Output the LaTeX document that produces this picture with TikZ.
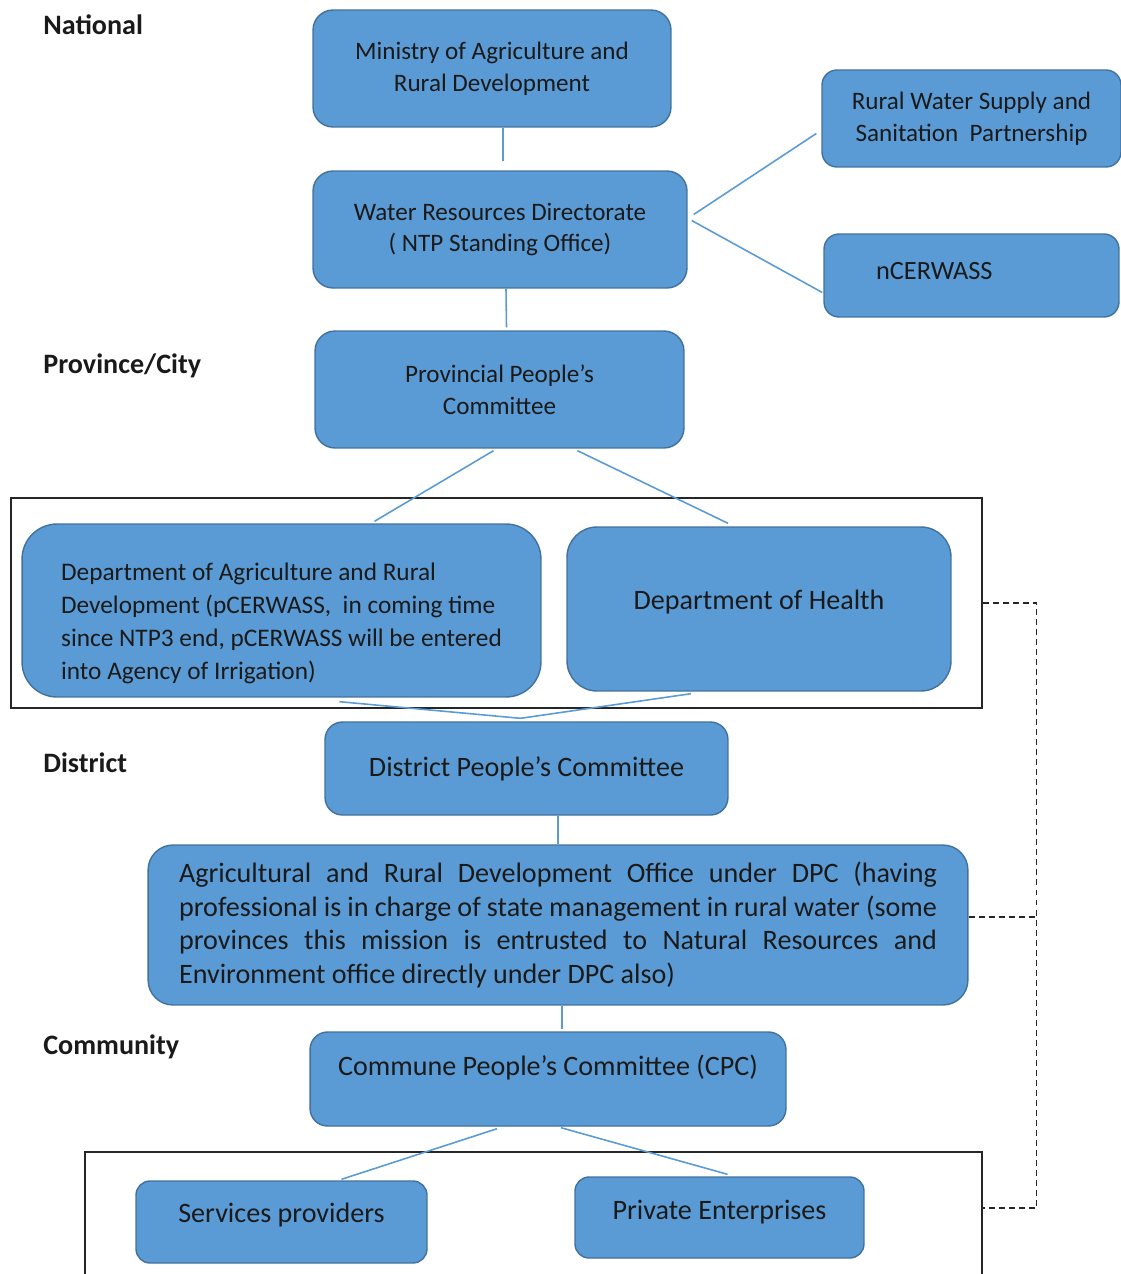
\documentclass[tikz,border=0pt]{standalone}
\usepackage{fontspec}
\setmainfont{Carlito}
\usetikzlibrary{calc}

\definecolor{kastenblau}{HTML}{5B9BD5}
\definecolor{randblau}{HTML}{41719C}
\definecolor{schrift}{HTML}{1A1A1A}

\begin{document}
\begin{tikzpicture}[x=0.02cm, y=-0.02cm,
	kasten/.style={draw=randblau, line width=0.8pt, fill=kastenblau, rounded corners=0.4cm,
		text=schrift, inner sep=0pt, align=center, font=\fontsize{14.3}{18.1}\selectfont},
	gross/.style={font=\fontsize{16}{19}\selectfont},
	ebene/.style={anchor=west, inner sep=0pt, text=schrift, font=\fontsize{16}{19}\selectfont\bfseries},
	verbindung/.style={draw=kastenblau, line width=0.9pt},
	rahmen/.style={draw=black!85, line width=0.8pt},
	strich/.style={draw=black!85, line width=0.8pt, dash pattern=on 3.4pt off 2.3pt}]
			
			\useasboundingbox (0,0) rectangle (1121,1274);
			
			% Ebenen
			\node[ebene] (national) at (43,25) {National};
			\node[ebene] (provinz) at (43,366) {Province/City};
			\node[ebene] (bezirk) at (43,763) {District};
			\node[ebene] (gemeinde) at (43,1047) {Community};
			
			% Rahmen
			\node[rahmen, minimum width=19.42cm, minimum height=4.2cm] (rahmen1) at (496.5,603) {};
			\draw[rahmen] (85,1274) -- (85,1152) -- (982,1152) -- (982,1274);
			\coordinate (rahmen2) at (982,1208);
			
			% National
			\node[kasten, minimum width=7.16cm, minimum height=2.34cm] (min) at (492,68.5) {Ministry of Agriculture and\\Rural Development};
			\node[kasten, minimum width=7.48cm, minimum height=2.34cm] (wrd) at (500,229.5) {Water Resources Directorate\\( NTP Standing Office)};
			\node[kasten, minimum width=5.98cm, minimum height=1.94cm, rounded corners=0.3cm] (rwssp) at (971.5,118.5) {Rural Water Supply and\\Sanitation\ \ Partnership};
			\node[kasten, minimum width=5.9cm, minimum height=1.66cm, rounded corners=0.3cm, text width=3.82cm, align=left, text depth=0.2cm, font=\fontsize{15}{18}\selectfont] (ncer) at (971.5,275.5) {nCERWASS};
			
			% Provinz
			\node[kasten, minimum width=7.38cm, minimum height=2.34cm] (ppc) at (499.5,389.5) {Provincial People’s\\Committee};
			\node[kasten, minimum width=10.38cm, minimum height=3.46cm, rounded corners=0.7cm, align=left, font=\fontsize{14.4}{18.7}\selectfont] (dard) at (281.5,610.5) {\rule{0pt}{0.86cm}Department of Agriculture and Rural\\Development (pCERWASS,\ \ in coming time\\since NTP3 end, pCERWASS will be entered\\into Agency of Irrigation)};
			\node[kasten, gross, minimum width=7.68cm, minimum height=3.28cm, rounded corners=0.6cm, text depth=0.36cm] (doh) at (759,609) {Department of Health};
			
			% Bezirk
			\node[kasten, gross, minimum width=8.06cm, minimum height=1.86cm, rounded corners=0.35cm] (dpc) at (526.5,768.5) {District People’s Committee};
			\node[kasten, minimum width=16.4cm, minimum height=3.2cm, rounded corners=0.5cm, text width=15.16cm, align=justify, font=\fontsize{16}{19}\selectfont] (ardo) at (558,925) {Agricultural and Rural Development Office under DPC (having\linebreak professional is in charge of state management in rural water (some\linebreak provinces this mission is entrusted to Natural Resources and\linebreak Environment office directly under DPC also)};
			
			% Gemeinde
			\node[kasten, gross, minimum width=9.52cm, minimum height=1.88cm, rounded corners=0.35cm, text depth=0.54cm] (cpc) at (548,1079) {Commune People’s Committee (CPC)};
			\node[kasten, gross, minimum width=5.82cm, minimum height=1.64cm, rounded corners=0.28cm, text depth=0.36cm] (sp) at (281.5,1222) {Services providers};
			\node[kasten, gross, minimum width=5.78cm, minimum height=1.62cm, rounded corners=0.28cm, text depth=0.32cm] (pe) at (719.5,1217.5) {Private Enterprises};
			
			% Verbindungen
			\draw[verbindung] ($(min.south)+(11,0)$) -- ($(wrd.north)+(3,-9)$);
			\draw[verbindung] ($(wrd.east)+(6,-15)$) -- ($(rwssp.west)+(-5,15)$);
			\draw[verbindung] ($(wrd.east)+(4,-9)$) -- ($(ncer.west)+(-1,17)$);
			\draw[verbindung] ($(wrd.south)+(6,0)$) -- ($(ppc.north)+(7,-3)$);
			\draw[verbindung] ($(ppc.south)+(-6,2)$) -- ($(dard.north)+(93,-2)$);
			\draw[verbindung] ($(ppc.south)+(78,2)$) -- ($(doh.north)+(-31,-3)$);
			\coordinate (treff) at ($(dpc.north)+(-6,-3)$);
			\draw[verbindung] ($(dard.south)+(58,4)$) -- (treff) -- ($(doh.south)+(-68,2)$);
			\draw[verbindung] ($(dpc.south)+(31.5,0)$) -- (ardo.north);
			\draw[verbindung] ($(ardo.south)+(4,0)$) -- ($(cpc.north)+(14,-2)$);
			\draw[verbindung] ($(cpc.south)+(-51,2)$) -- ($(sp.north)+(60,-1)$);
			\draw[verbindung] ($(cpc.south)+(13,1)$) -- ($(pe.north)+(8,-2)$);
			
			% gestrichelte Linie
			\coordinate (knick) at ($(rahmen1.east)+(54,0)$);
			\draw[strich] (rahmen1.east) -- (knick) |- (rahmen2);
			\draw[strich] ($(ardo.east)+(0,-8)$) -- ($(ardo.east -| knick)+(0,-8)$);
		\end{tikzpicture}
\end{document}
